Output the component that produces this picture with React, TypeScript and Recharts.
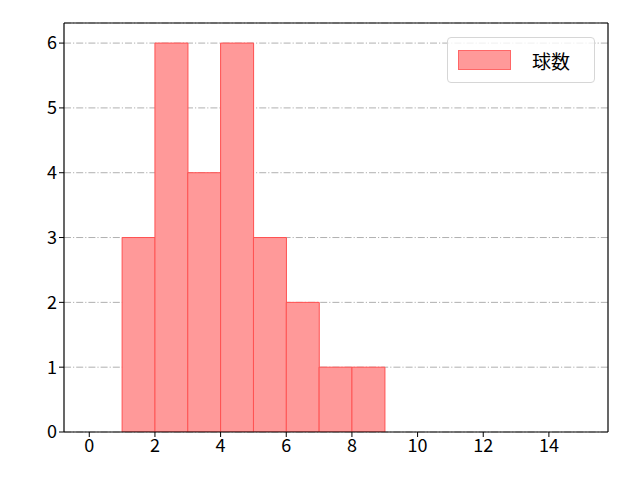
import React from 'react';
import { ComposedChart, Bar, XAxis, YAxis, CartesianGrid } from 'recharts';

// bin centres of the histogram (bin width 1)
const binCenters = [1.5, 2.5, 3.5, 4.5, 5.5, 6.5, 7.5, 8.5];
const counts = [3, 6, 4, 6, 3, 2, 1, 1];
const xTicks = [0, 2, 4, 6, 8, 10, 12, 14];
const yTicks = [0, 1, 2, 3, 4, 5, 6];
const seriesName = '球数';

const data = binCenters.map((x, i) => ({ x, count: counts[i] }));

const FONT = '"Noto Sans CJK JP", "DejaVu Sans", sans-serif';

const LegendBox = () => (
  <div
    style={{
      position: 'absolute',
      left: 447,
      top: 37,
      width: 148,
      height: 46,
      border: '1px solid #d6d6d6',
      borderRadius: 4,
      background: 'rgba(255,255,255,0.8)',
      display: 'flex',
      alignItems: 'center',
      fontFamily: FONT,
      fontSize: 19,
      color: '#000',
      boxSizing: 'border-box',
    }}
  >
    <span
      style={{
        display: 'inline-block',
        width: 53,
        height: 20,
        marginLeft: 10,
        background: '#ff9999',
        border: '1px solid #ff6666',
        boxSizing: 'border-box',
      }}
    />
    <span style={{ marginLeft: 21 }}>{seriesName}</span>
  </div>
);

export default function App() {
  return (
    <div style={{ position: 'absolute', left: 0, top: 0, width: 640, height: 480, background: '#fff' }}>
      <ComposedChart
        width={640}
        height={480}
        data={data}
        margin={{ top: 22, right: 31, left: 0, bottom: 0 }}
        barCategoryGap={0}
        barGap={0}
      >
        <CartesianGrid
          vertical={false}
          stroke="#b0b0b0"
          strokeDasharray="7 2 1.2 2"
          xAxisId="bottom"
          yAxisId="left"
        />
        <XAxis
          xAxisId="bottom"
          dataKey="x"
          type="number"
          domain={[-0.77, 15.8]}
          ticks={xTicks}
          interval={0}
          allowDataOverflow
          height={48}
          stroke="#000"
          tickSize={5}
          tick={{ fill: '#000', fontSize: 18, fontFamily: FONT }}
          tickLine={{ stroke: '#000' }}
          axisLine={{ stroke: '#000', strokeWidth: 1.2 }}
        />
        <XAxis
          xAxisId="top"
          orientation="top"
          dataKey="x"
          type="number"
          domain={[-0.77, 15.8]}
          allowDataOverflow
          height={1}
          tick={false}
          tickLine={false}
          axisLine={{ stroke: '#000', strokeWidth: 1.2 }}
        />
        <YAxis
          yAxisId="left"
          type="number"
          domain={[0, 6.31]}
          ticks={yTicks}
          interval={0}
          allowDataOverflow
          width={64}
          stroke="#000"
          tickSize={5}
          tick={{ fill: '#000', fontSize: 18, fontFamily: FONT }}
          tickLine={{ stroke: '#000' }}
          axisLine={{ stroke: '#000', strokeWidth: 1.2 }}
        />
        <YAxis
          yAxisId="right"
          orientation="right"
          type="number"
          domain={[0, 6.31]}
          width={1}
          tick={false}
          tickLine={false}
          axisLine={{ stroke: '#000', strokeWidth: 1.2 }}
        />
        <Bar
          xAxisId="bottom"
          yAxisId="left"
          dataKey="count"
          name={seriesName}
          fill="#ff9999"
          stroke="#ff5050"
          strokeWidth={1}
          isAnimationActive={false}
        />
      </ComposedChart>
      <LegendBox />
    </div>
  );
}
